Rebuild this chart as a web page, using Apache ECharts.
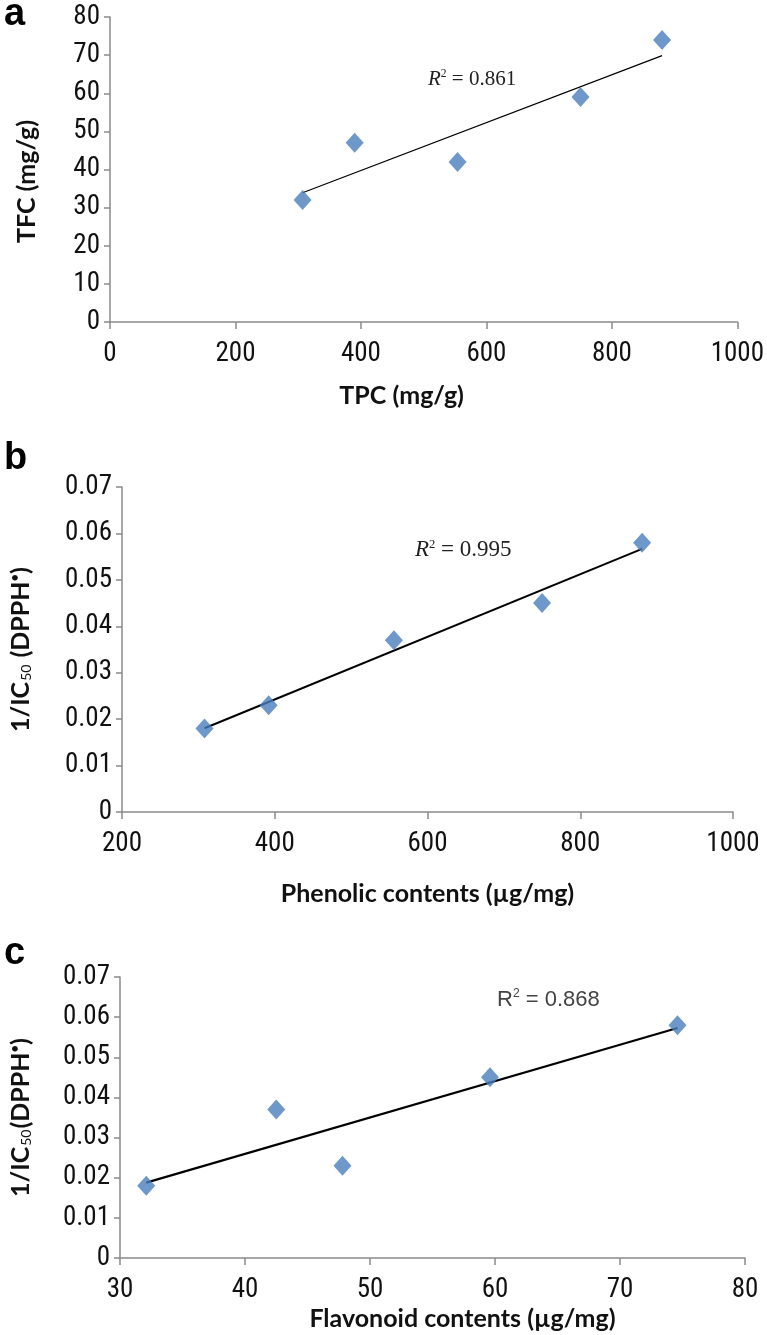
<!DOCTYPE html>
<html><head><meta charset="utf-8">
<script src="https://cdn.jsdelivr.net/npm/echarts@6/dist/echarts.min.js"></script>
<style>html,body{margin:0;padding:0;background:#fff}#c{width:767px;height:1335px}</style>
</head><body><div id="c"></div>
<script>
// Panel a: TPC vs TFC
const tpcA = [307, 390, 554, 750, 880];
const tfcA = [32, 47, 42, 59, 74];
// Panel b: phenolic contents vs 1/IC50
const phenB = [308, 392, 556, 750, 881];
const icB = [0.018, 0.023, 0.037, 0.045, 0.058];
// Panel c: flavonoid contents vs 1/IC50
const flavC = [32.1, 42.5, 47.8, 59.6, 74.6];
const icC = [0.018, 0.037, 0.023, 0.045, 0.058];
const r2Labels = ['0.861', '0.995', '0.868'];

function fit(xs, ys) {
  const n = xs.length;
  const mx = xs.reduce((a, b) => a + b, 0) / n;
  const my = ys.reduce((a, b) => a + b, 0) / n;
  let sxy = 0, sxx = 0;
  for (let i = 0; i < n; i++) { sxy += (xs[i] - mx) * (ys[i] - my); sxx += (xs[i] - mx) ** 2; }
  const k = sxy / sxx, b = my - k * mx;
  const x0 = Math.min(...xs), x1 = Math.max(...xs);
  return [[x0, k * x0 + b], [x1, k * x1 + b]];
}
const pairs = (xs, ys) => xs.map((x, i) => [x, ys[i]]);

const tickFont = 'Liberation Sans Narrow, Arial Narrow, Roboto Condensed, sans-serif';
const titleFont = 'Lato, Open Sans, sans-serif';
const axisColor = '#8a8a8a';
const markerColor = '#4a7ebb';
const fmt = v => String(+v.toFixed(4));

function xAx(gi, min, max, interval, name, gap, pad) {
  return {
    gridIndex: gi, type: 'value', min, max, interval,
    axisLine: { lineStyle: { color: axisColor, width: 1.5 } },
    axisTick: { length: 7, lineStyle: { color: axisColor, width: 1.5 } },
    splitLine: { show: false },
    axisLabel: { color: '#111', fontSize: 27, fontFamily: tickFont, margin: 19, formatter: fmt },
    name, nameLocation: 'middle', nameGap: gap,
    nameTextStyle: { color: '#111', fontSize: 25, fontWeight: 'bold', fontFamily: titleFont, padding: pad }
  };
}
function yAx(gi, min, max, interval, name, gap, pad) {
  return {
    gridIndex: gi, type: 'value', min, max, interval,
    axisLine: { show: true, lineStyle: { color: axisColor, width: 1.5 } },
    axisTick: { show: true, length: 6, lineStyle: { color: axisColor, width: 1.5 } },
    splitLine: { show: false },
    axisLabel: { color: '#111', fontSize: 27, fontFamily: tickFont, margin: 10, formatter: fmt },
    name, nameLocation: 'middle', nameGap: gap, nameRotate: 90,
    nameTextStyle: { color: '#111', fontSize: 25, fontWeight: 'bold', fontFamily: titleFont, padding: pad,
      rich: {
        sub: { fontSize: 14, fontWeight: 'normal', fontFamily: titleFont, verticalAlign: 'bottom', padding: [8, 1, 0, 1] },
        dot: { fontSize: 13, fontWeight: 'bold', fontFamily: titleFont, verticalAlign: 'top', padding: [0, 0, 10, 0] }
      } }
  };
}
function scatter(i, data) {
  return { type: 'scatter', xAxisIndex: i, yAxisIndex: i, data, symbol: 'diamond', symbolSize: [18, 20],
    itemStyle: { color: markerColor }, z: 3 };
}
function trend(i, data, w) {
  return { type: 'line', xAxisIndex: i, yAxisIndex: i, data, symbol: 'none',
    lineStyle: { color: '#000', width: w }, z: 2 };
}
function r2(left, top, val, style) {
  return { type: 'text', left, top, style: {
    rich: {
      i: { fontFamily: style.fam, fontStyle: style.italic ? 'italic' : 'normal', fontSize: style.size, fill: style.color },
      s: { fontFamily: style.fam, fontSize: style.size * 0.55, fill: style.color, verticalAlign: 'top', padding: [0, 0, style.size * 0.5, 0] },
      t: { fontFamily: style.fam, fontSize: style.size, fill: style.color }
    },
    text: '{i|R}{s|2}{t| = ' + val + '}'
  } };
}
function letter(ch, top) {
  return { type: 'text', left: 4, top, style: { text: ch, font: 'bold 38px Liberation Sans, Arial, sans-serif', fill: '#000' } };
}

const chart = echarts.init(document.getElementById('c'), null, { renderer: 'canvas' });
chart.setOption({
  animation: false,
  backgroundColor: '#fff',
  grid: [
    { left: 110, top: 17, width: 630, height: 305 },
    { left: 118, top: 487, width: 615, height: 325 },
    { left: 120, top: 977, width: 625, height: 281 }
  ],
  xAxis: [
    xAx(0, 0, 1000, 200, 'TPC (mg/g)', 61, [0, 44, 0, 0]),
    xAx(1, 200, 1000, 200, 'Phenolic contents (µg/mg)', 69, [0, 0, 0, 0]),
    xAx(2, 30, 80, 10, 'Flavonoid contents (µg/mg)', 48, [0, 0, 0, 60])
  ],
  yAxis: [
    yAx(0, 0, 80, 10, 'TFC (mg/g)', 71, [0, 24, 0, 0]),
    yAx(1, 0, 0.07, 0.01, '1/IC{sub|50} (DPPH{dot|•})', 89, [0, 0, 0, 0]),
    yAx(2, 0, 0.07, 0.01, '1/IC{sub|50}(DPPH{dot|•})', 87, [0, 0, 0, 0])
  ],
  series: [
    trend(0, fit(tpcA, tfcA), 1.2),
    scatter(0, pairs(tpcA, tfcA)),
    trend(1, fit(phenB, icB), 2),
    scatter(1, pairs(phenB, icB)),
    trend(2, fit(flavC, icC), 2.2),
    scatter(2, pairs(flavC, icC))
  ],
  graphic: [
    letter('a', -4),
    letter('b', 440),
    letter('c', 935),
    r2(428, 68, r2Labels[0], { fam: 'Liberation Serif, DejaVu Serif, serif', italic: true, size: 21, color: '#222' }),
    r2(415, 538, r2Labels[1], { fam: 'Liberation Serif, DejaVu Serif, serif', italic: true, size: 23, color: '#222' }),
    r2(497, 988, r2Labels[2], { fam: 'Liberation Sans Narrow, Arial Narrow, sans-serif', italic: false, size: 22, color: '#444' })
  ]
});
</script></body></html>
